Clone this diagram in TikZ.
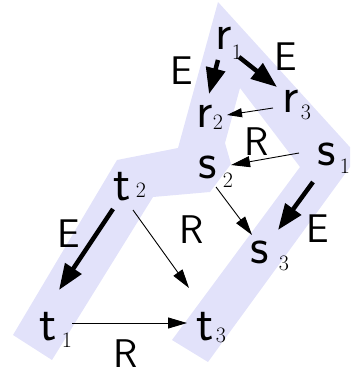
\documentclass[tikz,border=0pt]{standalone}
\usetikzlibrary{arrows.meta,calc}
\definecolor{band}{RGB}{226,226,250}
\tikzset{
  letter/.style={font=\fontsize{51}{51}\selectfont\sffamily, inner sep=0pt, anchor=base},
  subnum/.style={font=\fontsize{22}{22}\selectfont, inner sep=0pt, anchor=base},
  rellabel/.style={font=\fontsize{40}{40}\selectfont\sffamily, inner sep=0pt, anchor=base},
  thickarrow/.style={line width=4.5pt, -{Triangle[length=26pt,width=19pt]}},
  thinarrow/.style={line width=0.9pt, -{Triangle[length=19pt,width=11pt]}},
  smallarrow/.style={line width=0.9pt, -{Triangle[length=15pt,width=9pt]}}
}
\begin{document}
\begin{tikzpicture}[x=1pt,y=-1pt]
\clip (0,0) rectangle (350,374);
% band
\fill[band] (13,335) -- (117,160) -- (178,148) -- (218,2) -- (358,156) -- (208,362)
  -- (172,340) -- (300,167) -- (240,88) -- (225,143) -- (231,164) -- (210,192)
  -- (153,197) -- (52,360) -- cycle;
% letters
\node[letter] (r1) at (224,50) {r};
\node[letter] (r2) at (205,128) {r};
\node[letter] (r3) at (291,113) {r};
\node[letter] (s1) at (327,165) {s};
\node[letter] (s2) at (208,178) {s};
\node[letter] (s3) at (260,263) {s};
\node[letter] (t1) at (48,340) {t};
\node[letter] (t2) at (122,200) {t};
\node[letter] (t3) at (205,340) {t};
% subscripts
\node[subnum] (r1s) at (237,60) {1};
\node[subnum] (r2s) at (218,130) {2};
\node[subnum] (r3s) at (306,120) {3};
\node[subnum] (s1s) at (345,173) {1};
\node[subnum] (s2s) at (228,187) {2};
\node[subnum] (s3s) at (284,270) {3};
\node[subnum] (t1s) at (67,347) {1};
\node[subnum] (t2s) at (141,197) {2};
\node[subnum] (t3s) at (221,342) {3};
% labels
\node[rellabel] (e1) at (182,85) {E};
\node[rellabel] (e2) at (286,71) {E};
\node[rellabel] (e3) at (318,242) {E};
\node[rellabel] (e4) at (69,247) {E};
\node[rellabel] (ra) at (257,155) {R};
\node[rellabel] (rb) at (192,243) {R};
\node[rellabel] (rc) at (126,367) {R};
% E arrows
\draw[thickarrow] ($(r1.base)+(-6,10)$) -- ($(r2.base)+(4,-34)$);
\draw[thickarrow] ($(r1.base)+(15,7)$) -- ($(r3.base)+(-14,-26)$);
\draw[thickarrow] ($(s1.base)+(-14,17)$) -- ($(s3.base)+(18,-33)$);
\draw[thickarrow] ($(t2.base)+(-9,9)$) -- ($(t1.base)+(11,-50)$);
% R arrows
\draw[smallarrow] ($(r3.base)+(-18,-5)$) -- ($(r2.base)+(22,-13)$);
\draw[thinarrow] ($(s1.base)+(-28,-12)$) -- ($(s2.base)+(23,-13)$);
\draw[thinarrow] ($(s2.base)+(8,9)$) -- ($(s3.base)+(-8,-28)$);
\draw[thinarrow] ($(t2.base)+(11,10)$) -- ($(t3.base)+(-16,-52)$);
\draw[thinarrow] ($(t1.base)+(24,-17)$) -- ($(t3.base)+(-18,-17)$);
\end{tikzpicture}
\end{document}
